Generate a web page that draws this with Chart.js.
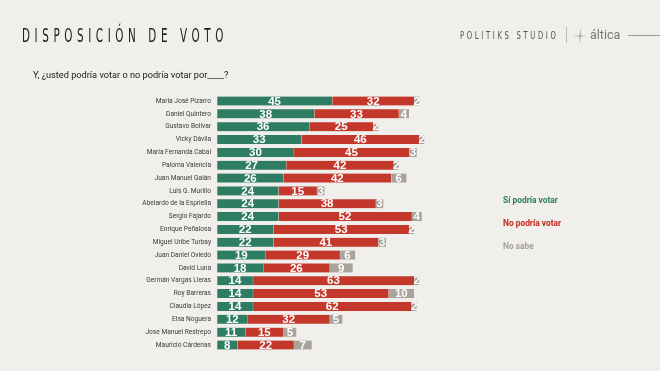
<!DOCTYPE html>
<html>
<head>
<meta charset="utf-8">
<script src="https://cdn.jsdelivr.net/npm/chart.js@4/dist/chart.umd.min.js"></script>
<style>
  html, body { margin: 0; padding: 0; background: #f0efeb; }
  #wrap { position: relative; width: 660px; height: 371px; overflow: hidden; }
  #myChart { position: absolute; left: 0; top: 0; }
  .title { position: absolute; left: 22px; top: 23px; font-family: "DejaVu Sans"; white-space: nowrap;
           font-size: 20px; letter-spacing: 8.8px; color: #1c1c1c; transform: scaleX(0.52); transform-origin: left top; }
  .brand { position: absolute; left: 460px; top: 29px; font-family: "DejaVu Sans"; white-space: nowrap;
           font-size: 11px; letter-spacing: 4.3px; color: #555; transform: scaleX(0.62); transform-origin: left top; }
  .sep { position: absolute; left: 566px; top: 27px; width: 1px; height: 16px; background: #bbb; }
  .altica { position: absolute; left: 590px; top: 27px; font-family: Roboto; font-size: 12.5px; color: #777; }
  .line { position: absolute; left: 628px; top: 35px; width: 40px; height: 1px; background: #999; }
  .star { position: absolute; left: 573px; top: 28px; }
  .sub { position: absolute; left: 33px; top: 69px; font-family: Roboto; font-size: 9.2px; color: #222; }
  .legend div { position: absolute; left: 503px; font-family: Roboto; font-weight: bold; font-size: 8.4px; }
</style>
</head>
<body>
<div id="wrap">
  <canvas id="myChart" width="660" height="371"></canvas>
  <div class="title">DISPOSICIÓN DE VOTO</div>
  <div class="brand">POLITIKS STUDIO</div>
  <div class="sep"></div>
  <svg class="star" width="14" height="16" viewBox="0 0 14 16">
    <path d="M8 0 L7.6 7.4 L14 8 L7.6 8.6 L7 16 L6.4 8.6 L0 8 L6.4 7.4 Z" fill="#999"/>
  </svg>
  <div class="altica">áltica</div>
  <div class="line"></div>
  <div class="sub">Y, ¿usted podría votar o no podría votar por____?</div>
  <div class="legend">
    <div style="top:195px;color:#2e7d62">Sí podría votar</div>
    <div style="top:218px;color:#c0291d">No podría votar</div>
    <div style="top:241px;color:#a5a199">No sabe</div>
  </div>
</div>
<script>
// data
const names = ["María José Pizarro", "Daniel Quintero", "Gustavo Bolívar", "Vicky Dávila",
  "María Fernanda Cabal", "Paloma Valencia", "Juan Manuel Galán", "Luis G. Murillo",
  "Abelardo de la Espriella", "Sergio Fajardo", "Enrique Peñalosa", "Miguel Uribe Turbay",
  "Juan Daniel Oviedo", "David Luna", "Germán Vargas Lleras", "Roy Barreras",
  "Claudia López", "Elsa Noguera", "Jose Manuel Restrepo", "Mauricio Cárdenas"];
const siPodria = [45, 38, 36, 33, 30, 27, 26, 24, 24, 24, 22, 22, 19, 18, 14, 14, 14, 12, 11, 8];
const noPodria = [32, 33, 25, 46, 45, 42, 42, 15, 38, 52, 53, 41, 29, 26, 63, 53, 62, 32, 15, 22];
const noSabe = [2, 4, 2, 2, 3, 2, 6, 3, 3, 4, 2, 3, 6, 9, 2, 10, 2, 5, 5, 7];

const green = "#2e7d62";
const red = "#c4372b";
const grey = "#a8a49c";

// white numbers in the middle of every segment
const barLabels = {
  id: "barLabels",
  afterDatasetsDraw(chart) {
    const ctx = chart.ctx;
    ctx.save();
    ctx.fillStyle = "#ffffff";
    ctx.font = "bold 11.5px 'Liberation Sans'";
    ctx.textAlign = "center";
    ctx.textBaseline = "middle";
    chart.data.datasets.forEach((ds, i) => {
      chart.getDatasetMeta(i).data.forEach((bar, j) => {
        const cx = (bar.x + bar.base) / 2;
        ctx.fillText(ds.data[j], cx, bar.y + 0.5);
      });
    });
    ctx.restore();
  }
};

const config = {
  type: "bar",
  data: {
    labels: names,
    datasets: [
      { label: "Sí podría votar", data: siPodria, backgroundColor: green },
      { label: "No podría votar", data: noPodria, backgroundColor: red },
      { label: "No sabe", data: noSabe, backgroundColor: grey }
    ]
  },
  options: {
    indexAxis: "y",
    responsive: false,
    animation: false,
    layout: { padding: { left: 0, top: 94.6, bottom: 19.6, right: 187 } },
    datasets: { bar: { barThickness: 9, borderWidth: { left: 0.6 }, borderColor: "#f0efeb", borderSkipped: false } },
    plugins: { legend: { display: false }, tooltip: { enabled: false } },
    scales: {
      x: { stacked: true, min: 0, max: 100, display: false },
      y: {
        stacked: true,
        grid: { display: false, drawTicks: false },
        border: { display: false },
        ticks: { color: "#3a3a3a", font: { family: "Roboto", size: 6.6 }, padding: 6, autoSkip: false },
        afterFit: (s) => { s.width = 217; }
      }
    }
  },
  plugins: [barLabels]
};

const myChart = new Chart(document.getElementById("myChart"), config);
</script>
</body>
</html>
